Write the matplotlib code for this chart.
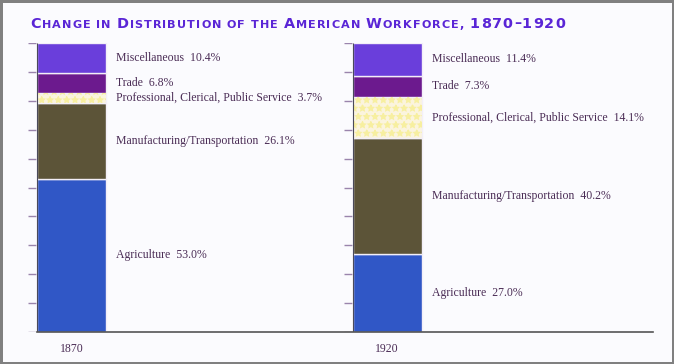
import numpy as np
import matplotlib
matplotlib.use("Agg")
import matplotlib.pyplot as plt

# data (percent of workforce), bottom to top
years = ["1870", "1920"]
sectors = ["Agriculture", "Manufacturing/Transportation",
           "Professional, Clerical, Public Service", "Trade", "Miscellaneous"]
share_1870 = [53.0, 26.1, 3.7, 6.8, 10.4]
share_1920 = [27.0, 40.2, 14.1, 7.3, 11.4]
ticks = list(range(0, 101, 10))

colors = ["#3057c6", "#5c5438", "#fbf4de", "#6c1a8e", "#6a3edb"]
bg = "#fbfbfe"
label_col = "#4a2c55"

W, H = 674, 364
fig = plt.figure(figsize=(W / 100, H / 100), dpi=100, facecolor=bg,
                 linewidth=2.5, edgecolor="#808080")
# y=0 at px 332, y=100 at px 43 ; bar centres at px 71.5 and 387
ax = fig.add_axes([0, 32 / H, 1, 289 / H])
ax.set_facecolor(bg)
unit = 315.5
ax.set_xlim(-71.5 / unit, (W - 71.5) / unit)
ax.set_ylim(0, 100)
ax.axis("off")

bar_w = 69 / unit
xpos = np.arange(len(years))

for i, shares in enumerate([share_1870, share_1920]):
    bottom = 0
    for j, (name, v) in enumerate(zip(sectors, shares)):
        ax.bar(xpos[i], v, bar_w, bottom=bottom, color=colors[j],
               edgecolor="#f3eff8", linewidth=1.0, zorder=2)
        if j == 2:
            ax.bar(xpos[i], v, bar_w, bottom=bottom, color="none",
                   edgecolor="#f7efa0", hatch="**", linewidth=0, zorder=3)
        ax.text(xpos[i] + bar_w / 2 + 10 / unit, bottom + v / 2,
                f"{name}  {v:.1f}%", fontsize=8.5, family="Liberation Serif",
                color=label_col, va="center", ha="left")
        bottom += v
    # left tick marks
    left = xpos[i] - bar_w / 2
    ax.hlines(ticks, left - 9 / unit, left - 1 / unit, color="#9a84ac",
              linewidth=1.0, zorder=1)
    # dark left edge of bar
    ax.vlines(left, 0, 100, color="#4a4a5a", linewidth=0.8, zorder=4)
    ax.text(xpos[i], -6.0, years[i], fontsize=8.5, family="Liberation Serif",
            color=label_col, ha="center", va="center")

# baseline
ax.plot([xpos[0] - bar_w / 2, (653 - 71.5) / unit], [0, 0],
        color="#555555", linewidth=1.2, zorder=4, clip_on=False)

# title in small caps: one text per character, laid out by hand
title = "Change in Distribution of the American Workforce, 1870\u20131920"
tcol = "#5a25d6"
big, small = 10.4, 8.1
x0, x1, base = 30, 565, H - 27.5
chars = []
for word in title.split(" "):
    for c in word:
        if c.isupper() or c.isdigit() or c == "\u2013":
            chars.append((c, big))
        else:
            chars.append((c.upper(), small))
    chars.append((" ", small))
chars = chars[:-1]

renderer = fig.canvas.get_renderer()
texts = []
for c, size in chars:
    t = fig.text(0, base / H, c if c != " " else "\u00a0", fontsize=size,
                 fontweight="bold", color=tcol, va="baseline", ha="left",
                 family="DejaVu Sans")
    texts.append(t)
widths = [t.get_window_extent(renderer).width for t in texts]
track = (x1 - x0 - sum(widths)) / (len(texts) - 1)
x = x0
for t, w in zip(texts, widths):
    t.set_x(x / W)
    x += w + track

fig.savefig("out.png", dpi=100, facecolor=bg, edgecolor="#808080")
